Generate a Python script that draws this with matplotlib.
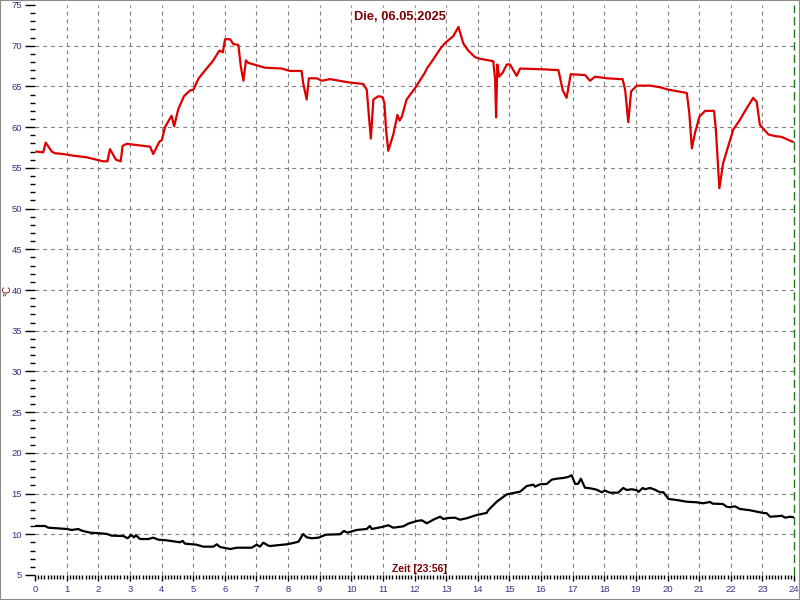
import matplotlib
matplotlib.use("Agg")
import matplotlib.pyplot as plt
from matplotlib.patches import Rectangle
from matplotlib.ticker import MultipleLocator

plt.rcParams['font.family'] = ['Liberation Sans', 'DejaVu Sans']

title = "Die, 06.05.2025"
xlabel = "Zeit [23:56]"
ylabel = "°C"

x_ticks = list(range(0, 25))
y_ticks = list(range(5, 80, 5))

red_hours = [0.05, 0.26, 0.34, 0.53, 0.63, 0.89, 1.21, 1.63, 2.16, 2.29, 2.37, 2.56, 2.71, 2.77, 2.90,
             3.64, 3.74, 3.93, 4.01, 4.11, 4.32, 4.40, 4.53, 4.71, 4.90, 5.01, 5.16, 5.32, 5.62, 5.83,
             5.94, 6.01, 6.17, 6.27, 6.43, 6.51, 6.59, 6.67, 6.74, 7.27, 7.80, 8.06, 8.43, 8.48, 8.59,
             8.66, 8.91, 9.07, 9.33, 9.91, 10.38, 10.49, 10.56, 10.62, 10.70, 10.86, 10.99, 11.05, 11.10,
             11.17, 11.33, 11.46, 11.53, 11.60, 11.75, 12.02, 12.33, 12.39, 12.59, 12.81, 12.96, 13.23,
             13.39, 13.54, 13.70, 13.91, 14.07, 14.49, 14.55, 14.58, 14.62, 14.68, 14.79, 14.92, 15.02,
             15.23, 15.34, 16.07, 16.55, 16.69, 16.81, 16.94, 17.39, 17.55, 17.71, 18.08, 18.50, 18.58,
             18.66, 18.76, 18.85, 19.03, 19.45, 19.76, 20.03, 20.61, 20.69, 20.77, 20.87, 21.01, 21.19,
             21.47, 21.53, 21.64, 21.76, 22.08, 22.29, 22.50, 22.71, 22.82, 22.92, 23.19, 23.40, 23.61,
             23.96]
red_temp = [57.0, 56.9, 58.1, 57.0, 56.8, 56.7, 56.5, 56.3, 55.8, 55.8, 57.3, 56.0, 55.8, 57.7, 57.95,
            57.6, 56.7, 58.2, 58.4, 60.0, 61.4, 60.1, 62.2, 63.8, 64.5, 64.6, 65.9, 66.7, 68.1, 69.4,
            69.2, 70.8, 70.8, 70.2, 70.1, 67.4, 65.7, 68.2, 67.9, 67.3, 67.2, 66.9, 66.9, 65.4, 63.4,
            66.0, 66.0, 65.7, 65.9, 65.5, 65.3, 64.6, 61.3, 58.6, 63.4, 63.8, 63.7, 62.9, 59.7,
            57.1, 59.1, 61.5, 60.8, 61.3, 63.4, 64.8, 66.7, 67.2, 68.3, 69.6, 70.3, 71.2,
            72.3, 70.3, 69.4, 68.6, 68.4, 68.1, 65.8, 61.2, 67.7, 66.2, 66.7, 67.7, 67.7,
            66.3, 67.2, 67.1, 67.0, 64.5, 63.6, 66.5, 66.4, 65.7, 66.2, 66.0, 65.9, 65.9,
            64.6, 60.6, 64.4, 65.1, 65.1, 64.9, 64.6, 64.2, 61.7, 57.4, 59.3, 61.3, 62.0,
            62.0, 59.7, 52.5, 55.6, 59.7, 60.9, 62.3, 63.6, 63.1, 60.3, 59.1, 58.9, 58.8,
            58.2]

black_hours = [0.0, 0.32, 0.42, 0.69, 1.00, 1.16, 1.37, 1.48, 1.74, 2.06, 2.27, 2.43, 2.79, 2.93, 3.04,
               3.13, 3.19, 3.32, 3.58, 3.74, 3.90, 4.16, 4.58, 4.67, 4.74, 5.11, 5.32, 5.64, 5.75, 5.85,
               6.17, 6.38, 6.85, 7.01, 7.11, 7.22, 7.38, 7.43, 7.96, 8.12, 8.33, 8.48, 8.59, 8.75, 8.96,
               9.20, 9.64, 9.77, 9.88, 10.17, 10.49, 10.59, 10.65, 11.01, 11.17, 11.33, 11.65, 11.80,
               12.07, 12.23, 12.39, 12.62, 12.81, 12.91, 13.07, 13.28, 13.44, 13.65, 13.97, 14.28, 14.33,
               14.60, 14.92, 15.34, 15.55, 15.76, 15.81, 15.97, 16.18, 16.34, 16.50, 16.71, 16.86, 16.97,
               17.08, 17.18, 17.26, 17.39, 17.55, 17.76, 17.92, 18.02, 18.18, 18.44, 18.60, 18.71, 18.87,
               19.03, 19.08, 19.22, 19.29, 19.45, 19.60, 19.76, 19.87, 20.03, 20.29, 20.61, 20.92, 21.13,
               21.34, 21.43, 21.75, 21.87, 21.98, 22.13, 22.29, 22.61, 22.82, 23.03, 23.14, 23.24, 23.45,
               23.61, 23.72, 23.87, 23.98]
black_temp = [11.02, 11.02, 10.81, 10.74, 10.65, 10.53, 10.65, 10.44, 10.20, 10.12, 10.04, 9.83, 9.79, 9.51, 9.91,
              9.63, 9.88, 9.42, 9.42, 9.58, 9.34, 9.26, 9.02, 9.18, 8.85, 8.72, 8.48, 8.48, 8.77, 8.44,
              8.19, 8.35, 8.35, 8.72, 8.48, 8.97, 8.60, 8.56, 8.77, 8.89, 9.09, 10.04, 9.63, 9.51, 9.58,
              9.95, 10.00, 10.41, 10.20, 10.53, 10.65, 11.02, 10.65, 10.93, 11.11, 10.81, 10.98, 11.30,
              11.63, 11.72, 11.35, 11.84, 12.16, 11.88, 12.00, 12.04, 11.79, 11.97, 12.37, 12.62, 12.95,
              14.00, 14.91, 15.23, 15.93, 16.09, 15.85, 16.14, 16.18, 16.71, 16.83, 16.92, 17.04, 17.25,
              16.18, 16.22, 16.83, 15.72, 15.65, 15.48, 15.16, 15.36, 15.11, 15.11, 15.69, 15.44, 15.53,
              15.41, 15.20, 15.69, 15.53, 15.69, 15.48, 15.16, 15.16, 14.34, 14.21, 14.00, 13.93, 13.81,
              13.97, 13.76, 13.72, 13.39, 13.32, 13.44, 13.11, 12.95, 12.78, 12.62, 12.58, 12.16, 12.21,
              12.28, 12.04, 12.16, 12.09]

fig = plt.figure(figsize=(8, 6), dpi=100, facecolor='white')
ax = fig.add_axes([35 / 800, 25 / 600, 759 / 800, 570 / 600])
ax.set_facecolor('white')
ax.set_xlim(0, 24)
ax.set_ylim(5, 75)

for s in ax.spines.values():
    s.set_visible(False)

grid_kw = dict(color='#808080', lw=0.8, ls=(0, (3.5, 3.5)), zorder=1)
for v in y_ticks[1:-1]:
    ax.axhline(v, **grid_kw)
for v in x_ticks[1:-1]:
    ax.axvline(v, **grid_kw)
ax.axvline(x_ticks[-1], color='#1a7a1a', lw=1.0, ls=(0, (6, 3)), zorder=1, clip_on=False)

ax.plot(red_hours, red_temp, color='#dd0000', lw=1.6, zorder=3)
ax.plot(black_hours, black_temp, color='#000000', lw=1.6, zorder=3)

ax.set_xticks(x_ticks)
ax.set_xticklabels([str(v) for v in x_ticks])
ax.set_yticks(y_ticks)
ax.set_yticklabels([str(v) for v in y_ticks])
ax.xaxis.set_minor_locator(MultipleLocator(0.1))
ax.yaxis.set_minor_locator(MultipleLocator(1))

lab_col = '#333388'
ax.tick_params(axis='y', which='major', length=7.2, width=1.0, color='black',
               labelsize=6.8, labelcolor=lab_col, pad=2)
ax.tick_params(axis='y', which='minor', length=3.6, width=1.0, color='black')
ax.tick_params(axis='x', which='major', length=4.0, width=1.0, color='black',
               labelsize=6.8, labelcolor=lab_col, pad=3)
ax.tick_params(axis='x', which='minor', length=3.0, width=1.0, color='black')

red_dark = '#7a0000'
fig.text(400 / 800, 1 - 17 / 600, title, color=red_dark, fontsize=9.3, fontweight='bold',
         ha='center', va='center')
fig.text(419 / 800, 1 - 569 / 600, xlabel, color=red_dark, fontsize=7.5, fontweight='bold',
         ha='center', va='center')
fig.text(7 / 800, 1 - 290 / 600, ylabel, color=red_dark, fontsize=7, rotation=90,
         ha='center', va='center')

fig.patches.append(Rectangle((0, 0), 1, 1, transform=fig.transFigure, fill=False,
                             edgecolor='#8c8c8c', lw=1.5, zorder=10))

fig.savefig('out.png', dpi=100, facecolor='white')
